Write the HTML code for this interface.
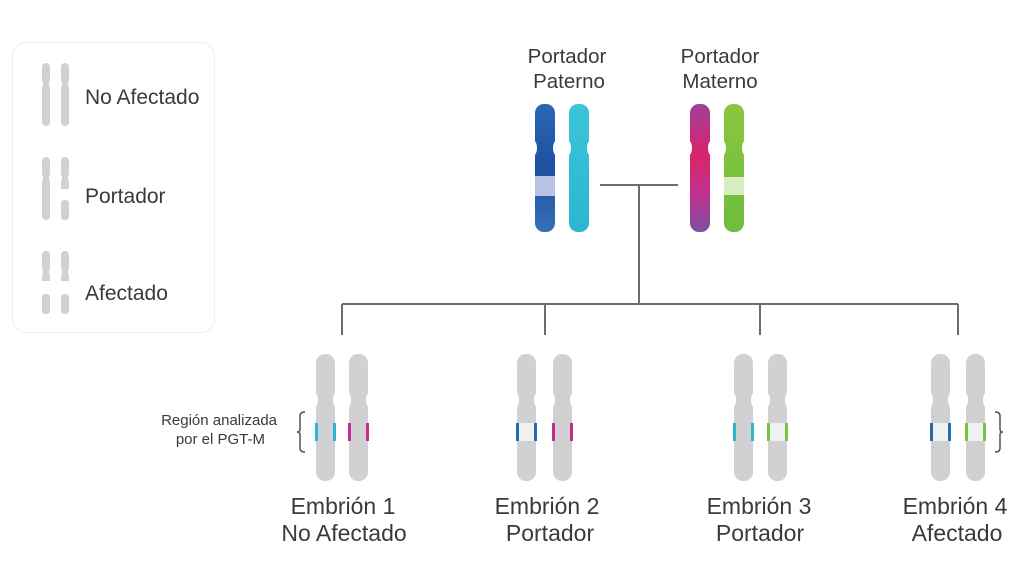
<!DOCTYPE html>
<html><head><meta charset="utf-8"><style>
html,body{margin:0;padding:0;background:#fff;}
svg{display:block;}
text{font-family:"Liberation Sans",sans-serif;fill:#3a3a3a;}
</style></head><body>
<svg width="1024" height="561" viewBox="0 0 1024 561" xmlns="http://www.w3.org/2000/svg">
<defs>
<linearGradient id="gB" x1="0" y1="0" x2="0" y2="1"><stop offset="0" stop-color="#2a67b5"/><stop offset="0.5" stop-color="#1f4fa0"/><stop offset="1" stop-color="#3470b8"/></linearGradient>
<linearGradient id="gC" x1="0" y1="0" x2="0" y2="1"><stop offset="0" stop-color="#3cc4d8"/><stop offset="1" stop-color="#2bb6d2"/></linearGradient>
<linearGradient id="gM" x1="0" y1="0" x2="0" y2="1"><stop offset="0" stop-color="#a0409a"/><stop offset="0.4" stop-color="#d9246a"/><stop offset="0.7" stop-color="#c2308e"/><stop offset="1" stop-color="#7d4fa0"/></linearGradient>
<linearGradient id="gG" x1="0" y1="0" x2="0" y2="1"><stop offset="0" stop-color="#8cc63f"/><stop offset="1" stop-color="#6dbd3c"/></linearGradient>
</defs>

<!-- Legend -->
<rect x="12.5" y="42.5" width="202" height="290" rx="14" fill="#fff" stroke="#eeeeee"/>
<g fill="#d1d1d3">
<rect x="42" y="63" width="8" height="63" rx="4"/>
<rect x="61" y="63" width="8" height="63" rx="4"/>
<rect x="42" y="157" width="8" height="63" rx="4"/>
<rect x="61" y="157" width="8" height="32" rx="4"/><rect x="61" y="182" width="8" height="7"/><rect x="61" y="200" width="8" height="20" rx="3"/>
<rect x="42" y="251" width="8" height="30" rx="4"/><rect x="42" y="274" width="8" height="7"/><rect x="42" y="294" width="8" height="20" rx="3"/>
<rect x="61" y="251" width="8" height="30" rx="4"/><rect x="61" y="274" width="8" height="7"/><rect x="61" y="294" width="8" height="20" rx="3"/>
</g>
<g fill="#fff">
<ellipse cx="41" cy="84" rx="2" ry="4"/><ellipse cx="51" cy="84" rx="2" ry="4"/>
<ellipse cx="60" cy="84" rx="2" ry="4"/><ellipse cx="70" cy="84" rx="2" ry="4"/>
<ellipse cx="41" cy="178" rx="2" ry="4"/><ellipse cx="51" cy="178" rx="2" ry="4"/>
<ellipse cx="60" cy="178" rx="2" ry="4"/><ellipse cx="70" cy="178" rx="2" ry="4"/>
<ellipse cx="41" cy="272" rx="2" ry="4"/><ellipse cx="51" cy="272" rx="2" ry="4"/>
<ellipse cx="60" cy="272" rx="2" ry="4"/><ellipse cx="70" cy="272" rx="2" ry="4"/>
</g>
<text x="85" y="104" font-size="21">No Afectado</text>
<text x="85" y="203" font-size="21">Portador</text>
<text x="85" y="300" font-size="21">Afectado</text>

<!-- Parents -->
<text x="567" y="63" font-size="20.5" text-anchor="middle">Portador</text>
<text x="569" y="88" font-size="20.5" text-anchor="middle">Paterno</text>
<text x="720" y="63" font-size="20.5" text-anchor="middle">Portador</text>
<text x="720" y="88" font-size="20.5" text-anchor="middle">Materno</text>

<rect x="535" y="104" width="20" height="128" rx="9" fill="url(#gB)"/>
<rect x="535" y="176" width="20" height="20" fill="#b8c3e3"/>
<rect x="569" y="104" width="20" height="128" rx="9" fill="url(#gC)"/>
<rect x="690" y="104" width="20" height="128" rx="9" fill="url(#gM)"/>
<rect x="724" y="104" width="20" height="128" rx="9" fill="url(#gG)"/>
<rect x="724" y="177" width="20" height="18" fill="#d9edc4"/>
<g fill="#fff">
<ellipse cx="534" cy="148" rx="3" ry="7"/><ellipse cx="556" cy="148" rx="3" ry="7"/>
<ellipse cx="568" cy="148" rx="3" ry="7"/><ellipse cx="590" cy="148" rx="3" ry="7"/>
<ellipse cx="689" cy="148" rx="3" ry="7"/><ellipse cx="711" cy="148" rx="3" ry="7"/>
<ellipse cx="723" cy="148" rx="3" ry="7"/><ellipse cx="745" cy="148" rx="3" ry="7"/>
</g>

<!-- Connectors -->
<g stroke="#6d6d6d" stroke-width="2" fill="none">
<line x1="600" y1="185" x2="678" y2="185"/>
<line x1="639" y1="185" x2="639" y2="304"/>
<line x1="342" y1="304" x2="958" y2="304"/>
<line x1="342" y1="304" x2="342" y2="335"/>
<line x1="545" y1="304" x2="545" y2="335"/>
<line x1="760" y1="304" x2="760" y2="335"/>
<line x1="958" y1="304" x2="958" y2="335"/>
</g>

<!-- Embryos -->
<g fill="#d1d1d3">
<rect x="316" y="354" width="19" height="127" rx="9"/>
<rect x="349" y="354" width="19" height="127" rx="9"/>
<rect x="517" y="354" width="19" height="127" rx="9"/>
<rect x="553" y="354" width="19" height="127" rx="9"/>
<rect x="734" y="354" width="19" height="127" rx="9"/>
<rect x="768" y="354" width="19" height="127" rx="9"/>
<rect x="931" y="354" width="19" height="127" rx="9"/>
<rect x="966" y="354" width="19" height="127" rx="9"/>
</g>
<g fill="#fff">
<ellipse cx="315" cy="400" rx="3" ry="7"/><ellipse cx="336" cy="400" rx="3" ry="7"/>
<ellipse cx="348" cy="400" rx="3" ry="7"/><ellipse cx="369" cy="400" rx="3" ry="7"/>
<ellipse cx="516" cy="400" rx="3" ry="7"/><ellipse cx="537" cy="400" rx="3" ry="7"/>
<ellipse cx="552" cy="400" rx="3" ry="7"/><ellipse cx="573" cy="400" rx="3" ry="7"/>
<ellipse cx="733" cy="400" rx="3" ry="7"/><ellipse cx="754" cy="400" rx="3" ry="7"/>
<ellipse cx="767" cy="400" rx="3" ry="7"/><ellipse cx="788" cy="400" rx="3" ry="7"/>
<ellipse cx="930" cy="400" rx="3" ry="7"/><ellipse cx="951" cy="400" rx="3" ry="7"/>
<ellipse cx="965" cy="400" rx="3" ry="7"/><ellipse cx="986" cy="400" rx="3" ry="7"/>
</g>
<g>
<rect x="315" y="423" width="3" height="18" fill="#2bb6d2"/><rect x="333" y="423" width="3" height="18" fill="#2bb6d2"/>
<rect x="348" y="423" width="3" height="18" fill="#c2308e"/><rect x="366" y="423" width="3" height="18" fill="#c2308e"/>

<rect x="518" y="423" width="17" height="18" fill="#eef0f2"/>
<rect x="516" y="423" width="3" height="18" fill="#2a67b5"/><rect x="534" y="423" width="3" height="18" fill="#2a67b5"/>
<rect x="552" y="423" width="3" height="18" fill="#c2308e"/><rect x="570" y="423" width="3" height="18" fill="#c2308e"/>

<rect x="733" y="423" width="3" height="18" fill="#2bb6d2"/><rect x="751" y="423" width="3" height="18" fill="#2bb6d2"/>
<rect x="769" y="423" width="17" height="18" fill="#eef0f2"/>
<rect x="767" y="423" width="3" height="18" fill="#7cc242"/><rect x="785" y="423" width="3" height="18" fill="#7cc242"/>

<rect x="932" y="423" width="17" height="18" fill="#eef0f2"/>
<rect x="930" y="423" width="3" height="18" fill="#2a67b5"/><rect x="948" y="423" width="3" height="18" fill="#2a67b5"/>
<rect x="967" y="423" width="17" height="18" fill="#eef0f2"/>
<rect x="965" y="423" width="3" height="18" fill="#7cc242"/><rect x="983" y="423" width="3" height="18" fill="#7cc242"/>
</g>

<path d="M305 412 Q300 412 300 416 L300 429 Q300 432 297 432 Q300 432 300 435 L300 448 Q300 452 305 452" stroke="#555" stroke-width="1.5" fill="none"/>
<path d="M995 412 Q1000 412 1000 416 L1000 429 Q1000 432 1003 432 Q1000 432 1000 435 L1000 448 Q1000 452 995 452" stroke="#555" stroke-width="1.5" fill="none"/>

<text x="277" y="425" font-size="15" text-anchor="end">Región analizada</text>
<text x="265" y="444" font-size="15" text-anchor="end">por el PGT-M</text>

<g font-size="23" text-anchor="middle">
<text x="343" y="514">Embrión 1</text><text x="344" y="541">No Afectado</text>
<text x="547" y="514">Embrión 2</text><text x="550" y="541">Portador</text>
<text x="759" y="514">Embrión 3</text><text x="760" y="541">Portador</text>
<text x="955" y="514">Embrión 4</text><text x="957" y="541">Afectado</text>
</g>
</svg>
</body></html>
